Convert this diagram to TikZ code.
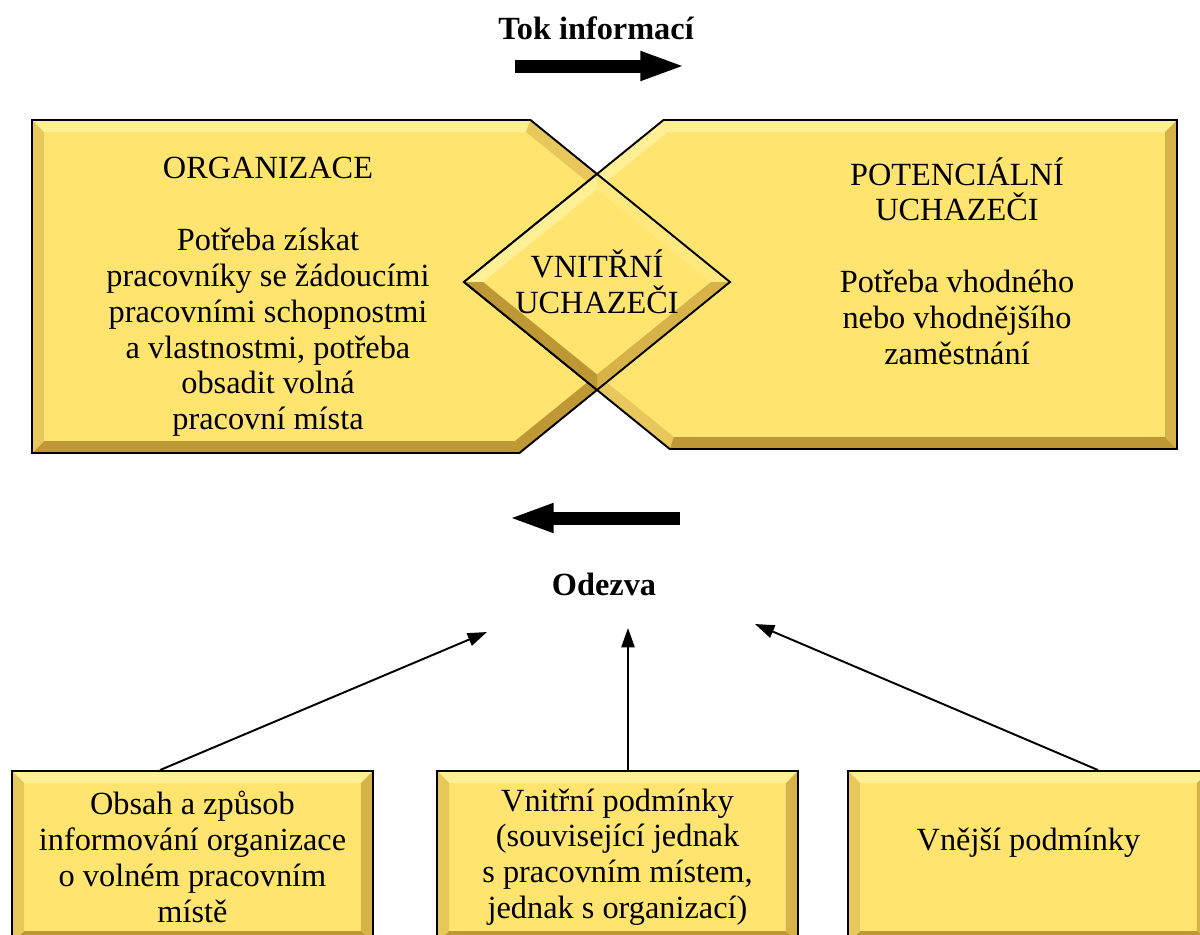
\documentclass[tikz,border=0pt]{standalone}
\usepackage{fontspec}
\setmainfont{Liberation Serif}
\usetikzlibrary{arrows.meta,shapes.geometric}

\definecolor{goldface}{RGB}{255,228,112}
\definecolor{goldlight}{RGB}{255,240,150}
\definecolor{goldmid}{RGB}{232,200,92}
\definecolor{goldshade}{RGB}{214,178,72}
\definecolor{golddark}{RGB}{190,152,52}

\begin{document}
\begin{tikzpicture}
[x=0.02cm,y=-0.02cm,font=\fontsize{18.4}{20.4}\selectfont,
  outline/.style={draw=black,line width=1.1pt},
  boxtext/.style={align=center,inner sep=0pt},
  heading/.style={font=\fontsize{18.4}{20.4}\selectfont\bfseries},
  flow/.style={line width=7.4pt,-{Triangle[length=26pt,width=15pt]}},
  reply/.style={line width=1.1pt,-{Triangle[length=11pt,width=7.5pt]}},
  bevelrect/.style={outline,fill=goldface,minimum width=7.22cm,minimum height=3.44cm,
    inner sep=0pt,align=center,
    path picture={
      \coordinate (nw) at (path picture bounding box.north west);
      \coordinate (ne) at (path picture bounding box.north east);
      \coordinate (sw) at (path picture bounding box.south west);
      \coordinate (se) at (path picture bounding box.south east);
      \fill[goldlight] (nw) -- (ne) -- ([xshift=-.24cm,yshift=-.24cm]ne) -- ([xshift=.24cm,yshift=-.24cm]nw) -- cycle;
      \fill[goldshade] (ne) -- (se) -- ([xshift=-.24cm,yshift=.24cm]se) -- ([xshift=-.24cm,yshift=-.24cm]ne) -- cycle;
      \fill[golddark] (se) -- (sw) -- ([xshift=.24cm,yshift=.24cm]sw) -- ([xshift=-.24cm,yshift=.24cm]se) -- cycle;
      \fill[goldmid] (sw) -- (nw) -- ([xshift=.24cm,yshift=-.24cm]nw) -- ([xshift=.24cm,yshift=.24cm]sw) -- cycle;
    }},
  insider/.style={shape=diamond,aspect=1.3,minimum width=5.32cm,minimum height=4.32cm,
    inner sep=0pt,outer sep=0pt,outline,fill=goldface,align=center,
    path picture={
      \coordinate (n) at (path picture bounding box.north);
      \coordinate (e) at (path picture bounding box.east);
      \coordinate (s) at (path picture bounding box.south);
      \coordinate (w) at (path picture bounding box.west);
      \fill[goldlight] (w) -- (n) -- ([yshift=-.31cm]n) -- ([xshift=.38cm]w) -- cycle;
      \fill[goldface!60!goldlight] (n) -- (e) -- ([xshift=-.38cm]e) -- ([yshift=-.31cm]n) -- cycle;
      \fill[goldshade] (e) -- (s) -- ([yshift=.31cm]s) -- ([xshift=-.38cm]e) -- cycle;
      \fill[golddark] (s) -- (w) -- ([xshift=.38cm]w) -- ([yshift=.31cm]s) -- cycle;
    }}]

  \useasboundingbox (0,0) rectangle (1200,934);
  \clip (0,0) rectangle (1200,934);

  % organizace (left)
  \fill[goldface] (32,120) -- (530.5,120) -- (730,282) -- (519.4,453) -- (32,453) -- cycle;
  \fill[goldlight] (32,120) -- (530.5,120) -- (526,132) -- (44,132) -- cycle;
  \fill[goldmid] (530.5,120) -- (730,282) -- (711,282) -- (526,132) -- cycle;
  \fill[golddark] (730,282) -- (519.4,453) -- (515,441) -- (711,282) -- cycle;
  \fill[golddark] (519.4,453) -- (32,453) -- (44,441) -- (515,441) -- cycle;
  \fill[goldmid] (32,453) -- (32,120) -- (44,132) -- (44,441) -- cycle;
  \draw[outline] (32,120) -- (530.5,120) -- (730,282) -- (519.4,453) -- (32,453) -- cycle;

  % uchazeci (right)
  \fill[goldface] (1177,120) -- (663.5,120) -- (464,282) -- (669.7,449) -- (1177,449) -- cycle;
  \fill[goldlight] (1177,120) -- (663.5,120) -- (667.7,132) -- (1165,132) -- cycle;
  \fill[goldlight] (663.5,120) -- (464,282) -- (483,282) -- (667.7,132) -- cycle;
  \fill[goldmid] (464,282) -- (669.7,449) -- (673.9,437) -- (483,282) -- cycle;
  \fill[golddark] (669.7,449) -- (1177,449) -- (1165,437) -- (673.9,437) -- cycle;
  \fill[goldshade] (1177,449) -- (1177,120) -- (1165,132) -- (1165,437) -- cycle;
  \draw[outline] (1177,120) -- (663.5,120) -- (464,282) -- (669.7,449) -- (1177,449) -- cycle;

  \node[insider] (dia) at (597,282) {VNITŘNÍ\\UCHAZEČI};

  \node[boxtext] (orgtext) at (268,297) {ORGANIZACE\\[20.4pt]Potřeba získat\\pracovníky se žádoucími\\pracovními schopnostmi\\a vlastnostmi, potřeba\\obsadit volná\\pracovní místa};
  \node[boxtext] (candtext) at (957,261) {POTENCIÁLNÍ\\UCHAZEČI\\[20.4pt]Potřeba vhodného\\nebo vhodnějšího\\zaměstnání};

  % tok a odezva
  \node[heading] (tok) at (596,28) {Tok informací};
  \coordinate (tokA) at (515,66);
  \coordinate (tokB) at (686,66);
  \draw[flow] (tokA) -- (tokB);
  \coordinate (odzA) at (680,518);
  \coordinate (odzB) at (508,518);
  \draw[flow] (odzA) -- (odzB);
  \node[heading] (odezva) at (604,584) {Odezva};

  % podminky
  \node[bevelrect] (info) at (192.5,857) {Obsah a způsob\\informování organizace\\o volném pracovním\\místě};
  \node[bevelrect] (inner) at (617.5,857) {Vnitřní podmínky\\(související jednak\\s pracovním místem,\\jednak s organizací)};
  \node[bevelrect,text height=12pt,text depth=19pt] (outer) at (1028.5,857) {Vnější podmínky};

  \coordinate (r1) at (487,632);
  \coordinate (r2) at (628,628);
  \coordinate (r3) at (755,624);
  \draw[reply] ([xshift=-.65cm]info.north) -- (r1);
  \draw[reply] ([xshift=.21cm]inner.north) -- (r2);
  \draw[reply] ([xshift=1.39cm]outer.north) -- (r3);

\end{tikzpicture}
\end{document}
